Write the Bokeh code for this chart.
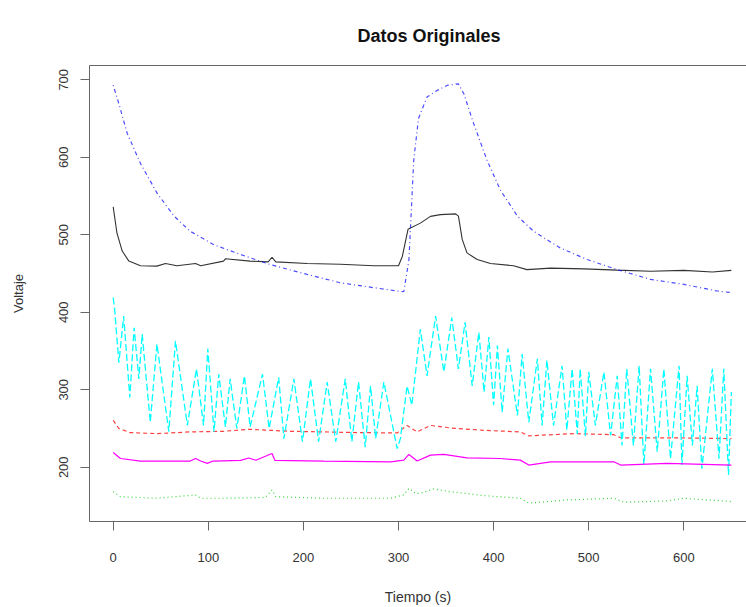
from bokeh.plotting import figure
from bokeh.models import Range1d, FixedTicker, LinearAxis
from bokeh.embed import file_html
from bokeh.resources import INLINE

# ---- data ----
black_t = [0, 4, 9.5, 16.5, 28.7, 46, 55, 67, 86.6, 92, 116, 118, 144, 163, 167, 171, 204, 239, 274, 300,
           304, 310, 323, 333.6, 344, 360, 363, 367, 372, 382.7, 396.7, 421, 435, 460, 495, 530, 565, 600, 630, 650]
black_v = [536, 502, 479, 466, 460, 459.5, 463, 460, 463, 460, 466, 469, 466, 465, 471, 465, 463, 462, 460, 460,
           472, 507, 515, 523.7, 526, 527, 524, 494, 476.6, 468, 463, 460, 455, 457, 456, 454.4, 453, 454, 452, 454]

blue_t = [0, 6, 14.7, 28.7, 46, 64, 81, 106, 134, 165, 204, 239, 274, 304, 305.6, 311, 316, 321, 330, 340.7,
          351, 363, 368.7, 379, 393, 407, 425, 442, 470, 498.4, 530, 565, 600, 635, 650]
blue_v = [693, 669, 631, 592, 554, 524, 504.5, 487, 474.5, 461.6, 448.8, 438, 431.7, 426.6, 427, 468, 596, 650, 677.7, 686.3,
          692.7, 694.8, 682, 643.5, 596.4, 558, 524, 504.5, 483, 468, 455, 442.4, 436, 427.4, 425.3]

red_t = [0, 6, 18, 46, 81, 116, 144, 165, 186, 221.5, 256.6, 298.6, 309, 319.6, 333.6, 354.7, 389.7, 428, 437,
         449, 484, 526.4, 533.5, 582.5, 650]
red_v = [260.5, 250, 244.7, 243.4, 245.6, 246.4, 249, 247.7, 246.4, 245.6, 244.7, 244.3, 254, 245.6, 254, 250.7, 247.7, 245.6, 240.4,
         241.3, 243.4, 242, 238, 238, 237]

magenta_t = [0, 7.7, 28.7, 81, 86.6, 92, 99, 105, 134, 142.6, 150, 167, 170, 221.5, 291.6, 305.6, 311, 319.6, 333.6,
             347.7, 372, 407, 428, 437, 460, 526.4, 533.5, 582.5, 650]
magenta_v = [219, 211.3, 208, 208, 211.3, 208, 205, 208, 208.8, 212, 209, 217.8, 209, 208, 207, 209.2, 216.5, 208, 215.6,
             216.5, 212.2, 211.3, 209.2, 202.8, 207, 207, 202.8, 205, 202.8]

green_t = [0, 7.7, 46, 86.6, 92, 116, 160, 167, 171, 221.5, 291.6, 305.6, 311, 318, 323, 337, 354.7, 389.7, 428,
           437, 477, 526.4, 537, 582.5, 600, 650]
green_v = [168.5, 162, 160, 164.3, 160, 160, 161, 170.7, 162, 160, 160, 164.3, 172.8, 166, 166.4, 172, 168.5, 163.4, 160,
           153.6, 157.8, 160, 154.8, 156.6, 160, 155.7]

cyan_t = [0, 1.5, 6, 11, 17.5, 22, 27, 30.5, 39, 46, 58.5, 65.5, 78, 87.6, 95, 99.5, 106, 111, 118, 123, 130, 138,
          144, 157, 164, 174, 179.5, 190, 199, 207.5, 216, 225, 234, 244, 251, 258, 265, 270.6, 276, 284.6, 298.6,
          302, 309, 314, 323, 330, 339, 347.7, 356, 363, 370, 377.5, 384.5, 390, 395, 400, 404, 409, 415, 425, 430,
          437, 446, 451, 456, 463, 472, 477, 482.6, 488, 491, 496.6, 500, 507, 516, 523, 530, 535, 540, 547, 553,
          558, 565, 572, 579, 586, 595, 598, 603.5, 609, 614, 619, 630, 637, 642, 647, 650]
cyan_v = [419, 404, 335, 395, 290, 380, 314, 372, 258, 359, 246, 363, 254, 327, 254, 353, 246, 320, 252, 314, 250, 318,
          252, 320, 250, 316, 237, 314, 233, 314, 233, 310, 233, 314, 233, 310, 226, 305, 237, 310, 224,
          237, 305, 280, 378, 318, 395, 323, 393, 327, 387, 305, 374, 297, 368, 280, 357, 271, 353, 267, 346,
          258, 340, 254, 338, 254, 331, 248, 327, 243, 327, 240, 323, 254, 323, 241, 318, 228, 327, 228, 331,
          203, 327, 220, 327, 211, 331, 203, 318, 228, 305, 198, 327, 211, 327, 190, 297]

x_ticks = [0, 100, 200, 300, 400, 500, 600]
y_ticks = [200, 300, 400, 500, 600, 700]

FONT = "Liberation Sans"
AXIS_COL = "#666666"
TEXT_COL = "#333333"

p = figure(width=746, height=607, output_backend="svg", toolbar_location=None,
           x_range=Range1d(-24.9, 665.9), y_range=Range1d(130, 718.4),
           min_border_left=89, min_border_top=65, min_border_right=0, min_border_bottom=84,
           title="Datos Originales")
p.outline_line_color = None
p.grid.visible = False
p.background_fill_color = "white"
p.border_fill_color = "white"

p.title.text_font = FONT
p.title.text_font_size = "18px"
p.title.text_font_style = "bold"
p.title.text_color = "#111111"
p.title.align = "left"
p.title.offset = 268
p.title.standoff = 2

for ax in (p.xaxis[0], p.yaxis[0]):
    ax.axis_line_color = AXIS_COL
    ax.major_tick_line_color = AXIS_COL
    ax.minor_tick_line_color = None
    ax.major_tick_in = 0
    ax.major_tick_out = 9
    ax.major_label_text_font = FONT
    ax.major_label_text_font_size = "13px"
    ax.major_label_text_color = TEXT_COL
    ax.axis_label_text_font = FONT
    ax.axis_label_text_font_size = "13px"
    ax.axis_label_text_font_style = "normal"
    ax.axis_label_text_color = TEXT_COL

p.xaxis[0].ticker = FixedTicker(ticks=x_ticks)
p.yaxis[0].ticker = FixedTicker(ticks=y_ticks)
p.xaxis[0].major_label_standoff = 22
p.yaxis[0].major_label_standoff = 12
p.yaxis[0].major_label_orientation = "parallel"
p.xaxis[0].axis_label = "Tiempo (s)"
p.xaxis[0].axis_label_text_font_size = "14px"
p.xaxis[0].axis_label_standoff = 24
p.yaxis[0].axis_label = "Voltaje"
p.yaxis[0].axis_label_standoff = 31

# top border line of the box (its invisible tick only reserves space under the title)
top = LinearAxis(ticker=FixedTicker(ticks=[0]), axis_line_color=AXIS_COL,
                 major_tick_line_color=None, minor_tick_line_color=None,
                 major_tick_out=19, major_tick_in=0, major_label_standoff=8,
                 major_label_overrides={0: ""}, major_label_text_font_size="1px")
p.add_layout(top, "above")

p.line(black_t, black_v, line_color="#333333", line_width=1.1)
p.line(red_t, red_v, line_color="#FF0000", line_width=1.2, line_dash="4 3", line_alpha=0.75)
p.line(green_t, green_v, line_color="#00CD00", line_width=1.2, line_dash="1 3", line_alpha=0.8)
p.line(blue_t, blue_v, line_color="#0000FF", line_width=1.2, line_dash="1 3 4 3", line_alpha=0.7)
p.line(cyan_t, cyan_v, line_color="#00FFFF", line_width=1.3, line_dash="7 3")
p.line(magenta_t, magenta_v, line_color="#FF00FF", line_width=1.2)

open("out.html", "w").write(file_html(p, INLINE))
